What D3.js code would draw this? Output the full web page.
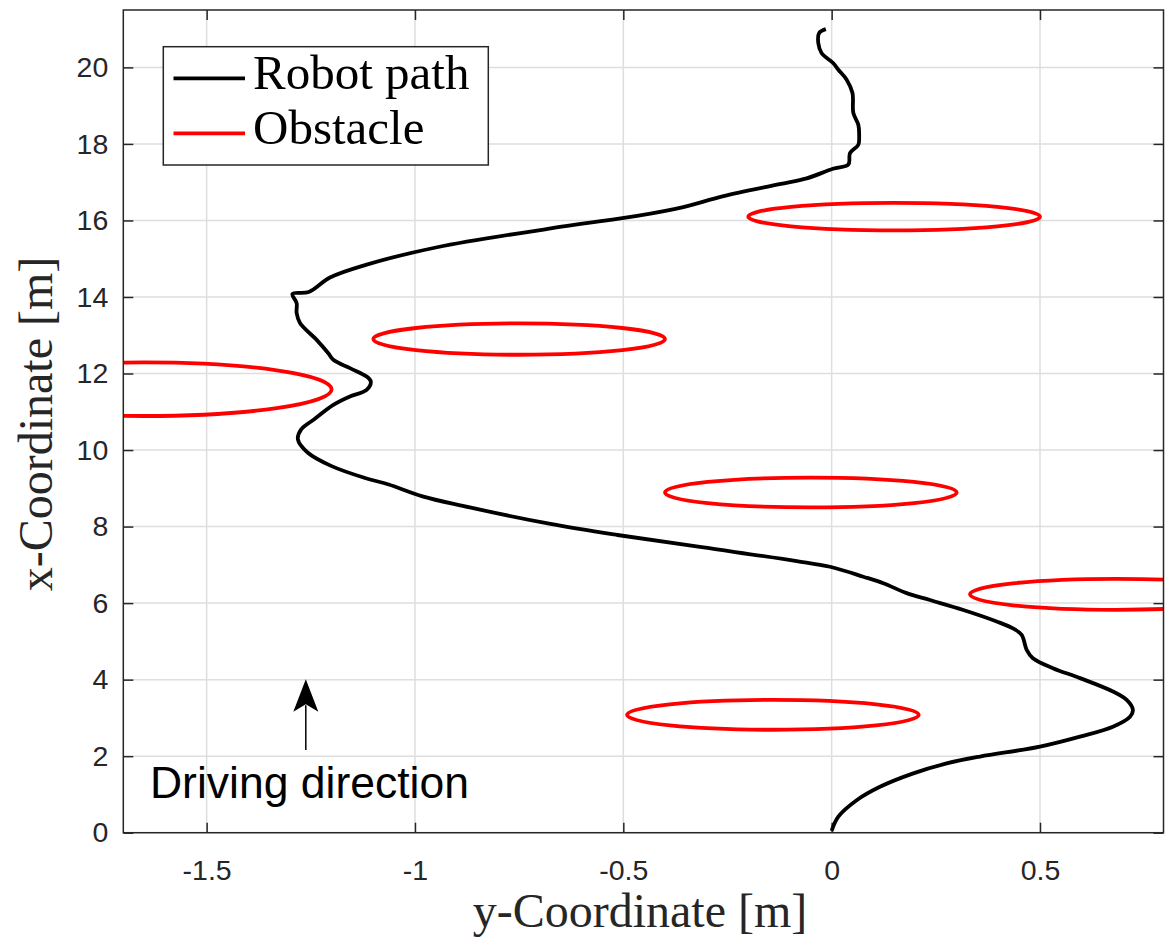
<!DOCTYPE html>
<html>
<head>
<meta charset="utf-8">
<script src="https://cdn.jsdelivr.net/npm/d3@7"></script>
<style>
  html, body { margin: 0; padding: 0; background: #fff; }
  svg { display: block; }
</style>
</head>
<body>
<svg id="chart" width="1165" height="943"></svg>
<script>
// Lateral position (y-coordinate, m) of the robot along its run
const pathLateral = [
  0.0, 0.016, 0.06, 0.116, 0.196, 0.276, 0.356, 0.5, 0.596, 0.675,
  0.716, 0.723, 0.708, 0.675, 0.596, 0.531, 0.483, 0.468, 0.456, 0.435,
  0.396, 0.316, 0.236, 0.18, 0.124, 0.076, -0.004, -0.084, -0.312, -0.514,
  -0.675, -0.885, -0.982, -1.063, -1.12, -1.2, -1.257, -1.281, -1.273, -1.241,
  -1.196, -1.156, -1.116, -1.106, -1.116, -1.156, -1.196, -1.208, -1.236, -1.276,
  -1.284, -1.284, -1.294, -1.255, -1.204, -1.118, -0.947, -0.639, -0.467,
  -0.356, -0.262, -0.125, -0.06, 0.003, 0.04, 0.044, 0.064, 0.066, 0.064,
  0.052, 0.05, 0.036, 0.016, 0.004, -0.024, -0.032, -0.03, -0.014
];
// Longitudinal position (x-coordinate, m) for each sample above
const pathLongitudinal = [
  0.05, 0.42, 0.85, 1.2, 1.55, 1.81, 1.99, 2.25, 2.51, 2.77,
  3.03, 3.21, 3.47, 3.69, 4.04, 4.30, 4.56, 4.78, 5.17, 5.34,
  5.52, 5.82, 6.08, 6.26, 6.52, 6.69, 6.95, 7.10, 7.46, 7.78,
  8.07, 8.54, 8.79, 9.10, 9.27, 9.58, 9.93, 10.28, 10.54, 10.81,
  11.18, 11.40, 11.57, 11.79, 11.92, 12.14, 12.36, 12.53, 12.88, 13.32,
  13.58, 13.84, 14.08, 14.13, 14.51, 14.84, 15.30, 15.85, 16.12,
  16.35, 16.63, 16.95, 17.10, 17.35, 17.46, 17.76, 17.98, 18.20, 18.50,
  18.81, 19.33, 19.68, 19.94, 20.11, 20.37, 20.63, 20.90, 21.0
];

// Obstacles: centre and half-extent along each axis (m)
const obstacleLateral = [-0.141, 0.682, -0.05, -1.65, -0.75, 0.15];
const obstacleLongitudinal = [3.08, 6.23, 8.89, 11.59, 12.90, 16.10];
const obstacleHalfLateral = [0.35, 0.35, 0.35, 0.45, 0.35, 0.35];
const obstacleHalfLongitudinal = [0.39, 0.405, 0.39, 0.70, 0.41, 0.36];

// Axis ticks
const xTicks = [-1.5, -1, -0.5, 0, 0.5];
const xTickLabels = ["-1.5", "-1", "-0.5", "0", "0.5"];
const yTicks = [0, 2, 4, 6, 8, 10, 12, 14, 16, 18, 20];
const yTickLabels = ["0", "2", "4", "6", "8", "10", "12", "14", "16", "18", "20"];

const legendLabels = ["Robot path", "Obstacle"];
const legendColors = ["#000000", "#ff0000"];

const svg = d3.select("#chart");
const W = 1165, H = 943;
const plotLeft = 123.3, plotRight = 1165, plotTop = 10, plotBottom = 832.7;
const axisColor = "#262626";
const gridColor = "#dedede";

const x = d3.scaleLinear().domain([-1.7, 0.8]).range([plotLeft, plotRight]);
const y = d3.scaleLinear().domain([0, 21.5]).range([plotBottom, plotTop]);
const boxRight = Math.min(x(0.8), W - 1.5);

svg.append("defs").append("clipPath").attr("id", "plot-clip")
  .append("rect").attr("x", plotLeft).attr("y", plotTop)
  .attr("width", boxRight - plotLeft).attr("height", plotBottom - plotTop);

// Grid
const grid = svg.append("g");
grid.selectAll("line.gx").data(xTicks).join("line").attr("class", "gx")
  .attr("x1", d => x(d)).attr("x2", d => x(d))
  .attr("y1", plotTop).attr("y2", plotBottom)
  .attr("stroke", gridColor).attr("stroke-width", 1.5);
grid.selectAll("line.gy").data(yTicks).join("line").attr("class", "gy")
  .attr("x1", plotLeft).attr("x2", boxRight)
  .attr("y1", d => y(d)).attr("y2", d => y(d))
  .attr("stroke", gridColor).attr("stroke-width", 1.5);

// Axes with inward ticks on all four sides
const tickFont = "'Liberation Sans', Arial, sans-serif";
function styleAxis(g) {
  g.select(".domain").remove();
  g.selectAll(".tick line").attr("stroke", axisColor).attr("stroke-width", 1.5);
  g.selectAll(".tick text").attr("fill", axisColor)
    .style("font-family", tickFont).style("font-size", "28.5px");
}
svg.append("g").attr("transform", `translate(0,${plotBottom})`)
  .call(d3.axisBottom(x).tickValues(xTicks)
    .tickFormat((d, i) => xTickLabels[i]).tickSize(-10).tickPadding(27))
  .call(styleAxis);
svg.append("g").attr("transform", `translate(0,${plotTop})`)
  .call(d3.axisTop(x).tickValues(xTicks).tickFormat("").tickSize(-10))
  .call(styleAxis);
svg.append("g").attr("transform", `translate(${plotLeft},0)`)
  .call(d3.axisLeft(y).tickValues(yTicks)
    .tickFormat((d, i) => yTickLabels[i]).tickSize(-10).tickPadding(15))
  .call(styleAxis);
svg.append("g").attr("transform", `translate(${boxRight},0)`)
  .call(d3.axisRight(y).tickValues(yTicks).tickFormat("").tickSize(-10))
  .call(styleAxis);

// Obstacles
const obstacles = obstacleLateral.map((c, i) => ({
  cx: c, cy: obstacleLongitudinal[i],
  rLat: obstacleHalfLateral[i], rLong: obstacleHalfLongitudinal[i]
}));
const plot = svg.append("g").attr("clip-path", "url(#plot-clip)");
plot.selectAll("ellipse").data(obstacles).join("ellipse")
  .attr("cx", d => x(d.cx)).attr("cy", d => y(d.cy))
  .attr("rx", d => x(d.rLat) - x(0)).attr("ry", d => y(0) - y(d.rLong))
  .attr("fill", "none").attr("stroke", "#ff0000").attr("stroke-width", 3.8);

// Robot path
const pathPoints = pathLateral.map((v, i) => [v, pathLongitudinal[i]]);
plot.append("path").datum(pathPoints)
  .attr("d", d3.line().curve(d3.curveCatmullRom.alpha(0.5))
    .x(d => x(d[0])).y(d => y(d[1])))
  .attr("fill", "none").attr("stroke", "#000").attr("stroke-width", 3.8)
  .attr("stroke-linejoin", "round");

// Axes box
svg.append("rect").attr("x", plotLeft).attr("y", plotTop)
  .attr("width", boxRight - plotLeft).attr("height", plotBottom - plotTop)
  .attr("fill", "none").attr("stroke", axisColor).attr("stroke-width", 1.5);

// Axis labels
const serif = "'Liberation Serif', 'Times New Roman', serif";
svg.append("text").attr("x", 640).attr("y", 927)
  .attr("text-anchor", "middle").attr("fill", axisColor)
  .style("font-family", serif).style("font-size", "48px")
  .text("y-Coordinate [m]");
svg.append("text").attr("transform", "translate(52,424) rotate(-90)")
  .attr("text-anchor", "middle").attr("fill", axisColor)
  .style("font-family", serif).style("font-size", "48px")
  .text("x-Coordinate [m]");

// Driving direction annotation
const arrowX = x(-1.262), arrowTail = y(2.16), arrowTip = y(4.01);
svg.append("line").attr("x1", arrowX).attr("x2", arrowX)
  .attr("y1", arrowTail).attr("y2", arrowTip + 26)
  .attr("stroke", "#000").attr("stroke-width", 1.5);
svg.append("path")
  .attr("d", `M${arrowX},${arrowTip} L${arrowX + 12.5},${arrowTip + 32.5} L${arrowX},${arrowTip + 25} L${arrowX - 12.5},${arrowTip + 32.5} Z`)
  .attr("fill", "#000");
svg.append("text").attr("x", x(-1.636)).attr("y", y(0.9))
  .attr("fill", "#000")
  .style("font-family", tickFont).style("font-size", "44.5px")
  .text("Driving direction");

// Legend
const legend = svg.append("g");
legend.append("rect").attr("x", 163.3).attr("y", 46.7)
  .attr("width", 325).attr("height", 118.3)
  .attr("fill", "#fff").attr("stroke", axisColor).attr("stroke-width", 1.5);
const rows = legend.selectAll("g.row").data(legendLabels).join("g")
  .attr("class", "row")
  .attr("transform", (d, i) => `translate(0,${78.3 + i * 55})`);
rows.append("line").attr("x1", 173.5).attr("x2", 245)
  .attr("y1", 0).attr("y2", 0)
  .attr("stroke", (d, i) => legendColors[i]).attr("stroke-width", 3.8);
rows.append("text").attr("x", 253).attr("y", 11)
  .attr("fill", "#000")
  .style("font-family", serif).style("font-size", "49px")
  .text(d => d);
</script>
</body>
</html>
